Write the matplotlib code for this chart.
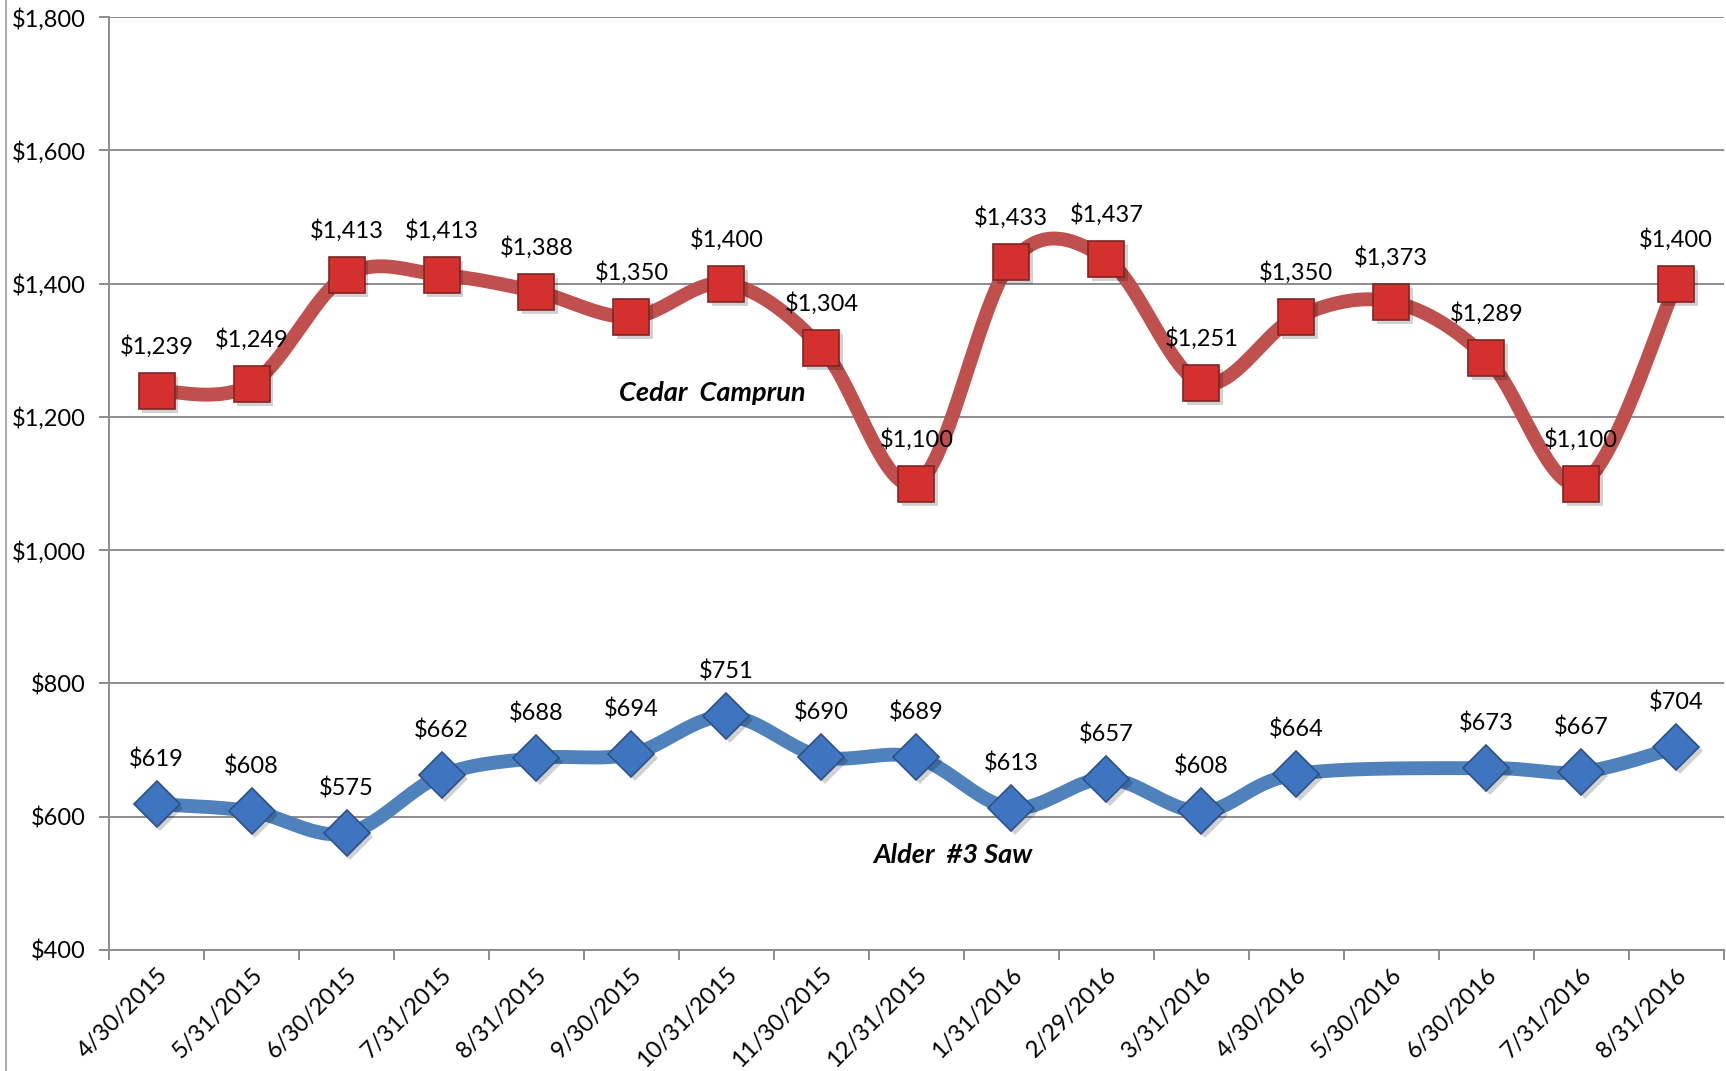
import matplotlib
matplotlib.use("Agg")
import matplotlib.pyplot as plt
import numpy as np
from matplotlib.lines import Line2D

dates = ["4/30/2015", "5/31/2015", "6/30/2015", "7/31/2015", "8/31/2015",
         "9/30/2015", "10/31/2015", "11/30/2015", "12/31/2015", "1/31/2016",
         "2/29/2016", "3/31/2016", "4/30/2016", "5/30/2016", "6/30/2016",
         "7/31/2016", "8/31/2016"]
cedar = [1239, 1249, 1413, 1413, 1388, 1350, 1400, 1304, 1100, 1433,
         1437, 1251, 1350, 1373, 1289, 1100, 1400]
alder = [619, 608, 575, 662, 688, 694, 751, 690, 689, 613,
         657, 608, 664, np.nan, 673, 667, 704]
y_ticks = [400, 600, 800, 1000, 1200, 1400, 1600, 1800]

plt.rcParams['font.family'] = ['Lato', 'DejaVu Sans']


def smooth(xs, ys, n=40):
    # excel-like smoothed line (catmull-rom bezier through the points)
    px, py = [], []
    m = len(xs)
    for i in range(m - 1):
        i0, i3 = max(i - 1, 0), min(i + 2, m - 1)
        p0 = np.array([xs[i0], ys[i0]])
        p1 = np.array([xs[i], ys[i]])
        p2 = np.array([xs[i + 1], ys[i + 1]])
        p3 = np.array([xs[i3], ys[i3]])
        c1 = p1 + (p2 - p0) / 6
        c2 = p2 - (p3 - p1) / 6
        t = np.linspace(0, 1, n)[:, None]
        b = ((1 - t) ** 3) * p1 + 3 * ((1 - t) ** 2) * t * c1 + 3 * (1 - t) * t ** 2 * c2 + t ** 3 * p2
        px.extend(b[:, 0])
        py.extend(b[:, 1])
    return px, py


def fmt(v):
    return "${:,.0f}".format(v)


fig = plt.figure(figsize=(17.26, 10.71), dpi=100)
ax = fig.add_axes([0.0632, 0.113, 0.9355, 0.871])

x = np.arange(len(dates))

series = [
    (alder, '#4F81BD', 'D', 23, '#3F74C0', '#2C5286'),
    (cedar, '#C0504D', 's', 26, '#D4302E', '#7E2624'),
]
for vals, lc, mk, ms, fc, ec in series:
    v = np.array(vals, dtype=float)
    ok = ~np.isnan(v)
    sx, sy = smooth(x[ok], v[ok])
    ax.plot(sx, sy, color=lc, lw=10, solid_capstyle='round', zorder=3)
    # soft shadow behind marker
    ax.plot(x[ok] + 0.04, v[ok] - 6, linestyle='none', marker=mk, markersize=ms,
            color='#000000', alpha=0.18, markeredgewidth=0, zorder=4)
    ax.plot(x[ok], v[ok], linestyle='none', marker=mk, markersize=ms,
            markerfacecolor=fc, markeredgecolor=ec, markeredgewidth=1.2, zorder=5)
    for xi, vi in zip(x[ok], v[ok]):
        ax.annotate(fmt(vi), (xi, vi), xytext=(0, 32), textcoords='offset points',
                    ha='center', va='center', fontsize=17, zorder=6)

ax.text(5.85, 1236, "Cedar  Camprun", fontsize=19.5, fontweight='bold', fontstyle='italic',
        ha='center', va='center')
ax.text(8.38, 543, "Alder  #3 Saw", fontsize=19.5, fontweight='bold', fontstyle='italic',
        ha='center', va='center')

ax.set_xlim(-0.5, len(dates) - 0.5)
ax.set_ylim(400, 1800)
ax.set_yticks(y_ticks)
ax.set_yticklabels([fmt(v) for v in y_ticks])
ax.grid(axis='y', color='#8C8C8C', lw=1.4, zorder=1)

ax.set_xticks(np.arange(len(dates) + 1) - 0.5)
ax.set_xticklabels([])
ax.set_xticks(x, minor=True)
ax.set_xticklabels(dates, minor=True, rotation=45, ha='right', rotation_mode='anchor')
ax.tick_params(axis='x', which='minor', length=0, labelsize=17, pad=10)
ax.tick_params(axis='x', which='major', length=7, width=1.4, color='#8C8C8C')
ax.tick_params(axis='y', length=7, width=1.4, color='#8C8C8C', labelsize=17, pad=10)

for s in ['top', 'right']:
    ax.spines[s].set_visible(False)
for s in ['left', 'bottom']:
    ax.spines[s].set_color('#8C8C8C')
    ax.spines[s].set_linewidth(1.4)

fig.add_artist(Line2D([0.0032, 0.0032], [0, 1], color='#A0A0A0', lw=1.2))

plt.savefig("out.png")
